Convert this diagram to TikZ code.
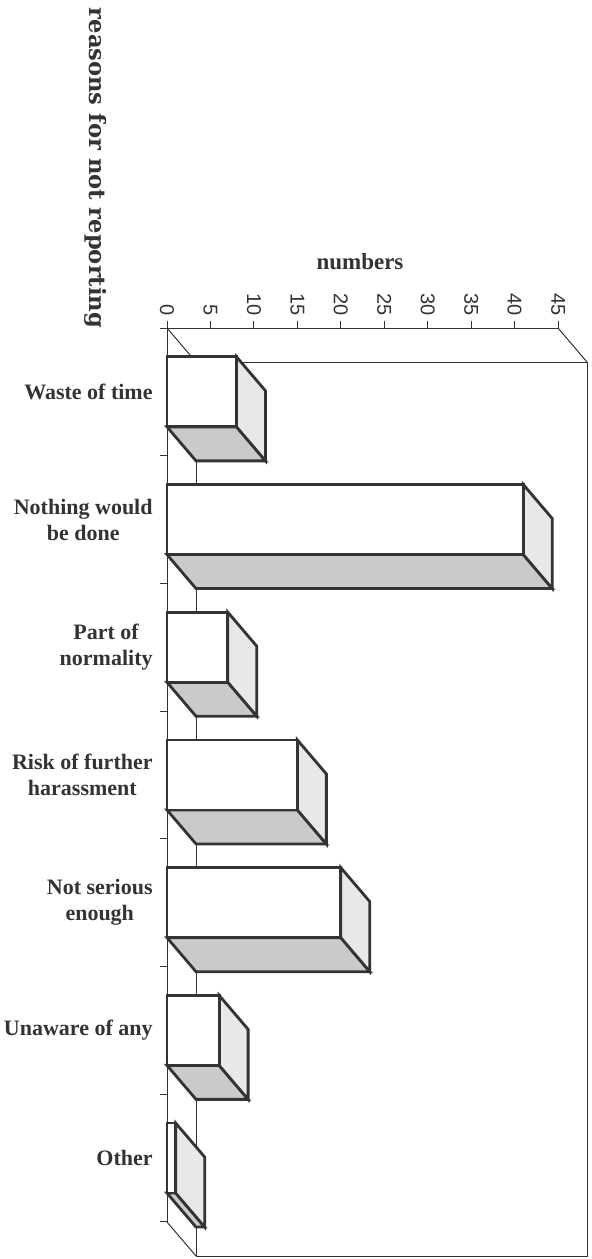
\documentclass[tikz,border=0pt]{standalone}
\usepackage{fontspec}
\setmainfont{Liberation Serif}
\setsansfont{Liberation Sans}
\newfontfamily\titlefont{DejaVu Serif}
\usetikzlibrary{calc,backgrounds}
\definecolor{inkgray}{HTML}{333333}
\definecolor{sidegray}{HTML}{E8E8E8}
\definecolor{basegray}{HTML}{CACACA}

\begin{document}
\begin{tikzpicture}[x=0.5pt,y=-0.5pt]
        \tikzstyle{axisline} = [draw=inkgray, line width=0.5pt]
        \tikzstyle{barface} = [draw=inkgray, line width=1.4pt, line join=miter]
        \tikzstyle{catlabel} = [font=\bfseries\fontsize{11}{13}\selectfont, align=center, anchor=east, text=inkgray, inner sep=0pt]
        \tikzstyle{ticklabel} = [font=\sffamily\fontsize{10}{12}\selectfont, rotate=-90, anchor=east, text=inkgray, inner sep=0pt]
        \useasboundingbox (0,0) rectangle (592,1259);
        \def\vx{8.69}
        \def\dx{29}
        \def\dy{34}
        \def\slot{127.7}

        \coordinate (origin) at (167,328);
        \coordinate (axisend) at (558,328);
        \coordinate (floorend) at (167,1222);
        \coordinate (backtl) at ($(origin) + (\dx,\dy)$);
        \coordinate (backtr) at ($(axisend) + (\dx,\dy)$);
        \coordinate (backbl) at ($(floorend) + (\dx,\dy)$);

        % frame
        \draw [axisline] (origin) -- (axisend);
        \draw [axisline] (origin) -- (floorend);
        \draw [axisline] (origin) -- (backtl);
        \draw [axisline] (axisend) -- (backtr);
        \draw [axisline] (floorend) -- (backbl);
        \draw [axisline] (backtl) rectangle (backtr |- backbl);

        % value ticks
        \foreach \v in {0,5,...,45} {
            \draw [axisline] (167+\v*\vx,328) -- (167+\v*\vx,321);
            \node [ticklabel, name=tick\v] at (167+\v*\vx,316) {\v};
        }
        % category ticks
        \foreach \k in {0,...,7}
            \draw [axisline] (167,328+\k*\slot) -- (160,328+\k*\slot);

        % bars
        \foreach \val/\txt [count=\k] in {8/{Waste of time}, 41/{Nothing would\\be done}, 7/{Part of\\normality}, 15/{Risk of further\\harassment}, 20/{Not serious\\enough}, 6/{Unaware of any}, 1/{Other}} {
            \pgfmathsetmacro\yc{328+\slot*(\k-0.5)}
            \pgfmathsetmacro\ya{\yc-35}
            \pgfmathsetmacro\yb{\yc+35}
            \pgfmathsetmacro\xb{167+\val*\vx}
            \draw [barface, fill=basegray] (167,\yb) -- (\xb,\yb) -- (\xb+\dx,\yb+\dy) -- (167+\dx,\yb+\dy) -- cycle;
            \draw [barface, fill=sidegray] (\xb,\ya) -- (\xb+\dx,\ya+\dy) -- (\xb+\dx,\yb+\dy) -- (\xb,\yb) -- cycle;
            \draw [barface, fill=white] (167,\ya) rectangle (\xb,\yb);
            \node [catlabel, name=cat\k] at (153,\yc) {\txt};
        }

        % axis titles
        \node [font=\bfseries\fontsize{11.5}{13}\selectfont, text=inkgray, name=valtitle] at (360,262) {numbers};
        \node [font=\titlefont\bfseries\fontsize{11.3}{13}\selectfont, text=inkgray, rotate=-90, name=cattitle] at (96,168) {reasons for not reporting};
\end{tikzpicture}
\end{document}
